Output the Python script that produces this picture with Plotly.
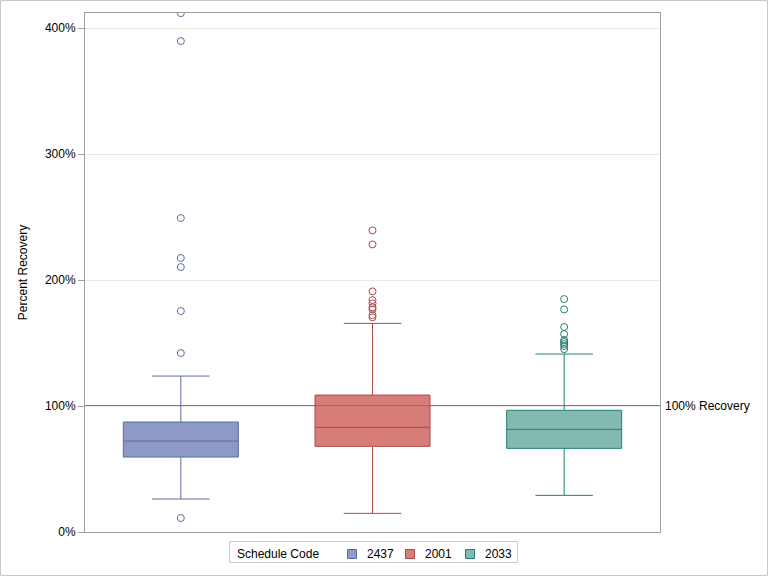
import plotly.graph_objects as go

categories = ["2437", "2001", "2033"]
q1 = [59.5, 68.0, 66.4]
median = [72.2, 83.1, 81.5]
q3 = [87.3, 108.7, 96.6]
lower_whisker = [26.2, 14.8, 29.1]
upper_whisker = [123.8, 165.6, 141.3]
outliers = [
    [411.9, 389.7, 249.2, 217.5, 210.3, 175.4, 142.1, 11.1],
    [239.4, 228.3, 191.0, 184.1, 181.5, 178.3, 176.7, 172.2, 170.4],
    [184.9, 176.7, 162.7, 157.1, 152.4, 150.8, 149.2, 147.6, 145.2],
]
fill_colors = ["rgba(104,119,179,0.75)", "rgba(203,80,78,0.75)", "rgba(91,162,151,0.75)"]
line_colors = ["rgb(92,106,166)", "rgb(176,72,70)", "rgb(34,126,114)"]
ref_value = 100
ref_label = "100% Recovery"
legend_title = "Schedule Code"
y_range = [0, 412]
y_ticks = [0, 100, 200, 300, 400]
y_ticklabels = ["0%", "100%", "200%", "300%", "400%"]

FONT = "Liberation Sans, Arial, sans-serif"

L, R, T, B = 85, 108, 13, 44
W, H = 768 - L - R, 576 - T - B


def px(x):
    return (x - L) / W


def py(y):
    return (T + H - y) / H


fig = go.Figure()
for i, cat in enumerate(categories):
    fig.add_trace(go.Box(
        x=[cat], q1=[q1[i]], median=[median[i]], q3=[q3[i]],
        lowerfence=[lower_whisker[i]], upperfence=[upper_whisker[i]],
        name=cat, width=0.6, whiskerwidth=0.5,
        fillcolor=fill_colors[i], line=dict(color=line_colors[i], width=1),
        boxpoints=False, hoverinfo="skip", showlegend=False,
    ))
    fig.add_trace(go.Scatter(
        x=[cat] * len(outliers[i]), y=outliers[i], mode="markers",
        marker=dict(symbol="circle-open", size=7, color=line_colors[i], line=dict(width=1)),
        showlegend=False, hoverinfo="skip", cliponaxis=True,
    ))

fig.add_hline(y=ref_value, line=dict(color="black", width=1.1), layer="below")
fig.add_annotation(x=1, xref="paper", y=ref_value, yref="y", text=ref_label,
                   showarrow=False, xanchor="left", xshift=3,
                   font=dict(family=FONT, size=12, color="black"))

# outer image border
fig.add_shape(type="rect", xref="paper", yref="paper",
              x0=px(0.5), x1=px(767.5), y0=py(575.5), y1=py(0.5),
              line=dict(color="rgb(200,200,200)", width=1), layer="below")

# legend (drawn as a key below the plot)
fig.add_shape(type="rect", xref="paper", yref="paper",
              x0=px(229.5), x1=px(517.5), y0=py(562.5), y1=py(541.5),
              line=dict(color="rgb(200,200,200)", width=1), fillcolor="white")
fig.add_annotation(x=px(235), y=py(554), xref="paper", yref="paper", text=legend_title,
                   showarrow=False, xanchor="left", yanchor="middle",
                   font=dict(family=FONT, size=12, color="black"))
key_x = [347.5, 405.5, 465.5]
for i, cat in enumerate(categories):
    fig.add_shape(type="rect", xref="paper", yref="paper",
                  x0=px(key_x[i]), x1=px(key_x[i] + 9), y0=py(558.5), y1=py(549.5),
                  line=dict(color=line_colors[i], width=1), fillcolor=fill_colors[i])
    fig.add_annotation(x=px(key_x[i] + 17), y=py(554), xref="paper", yref="paper",
                       text=cat, showarrow=False, xanchor="left", yanchor="middle",
                       font=dict(family=FONT, size=12, color="black"))

fig.update_layout(
    width=768, height=576,
    margin=dict(l=L, r=R, t=T, b=B, autoexpand=False),
    paper_bgcolor="white", plot_bgcolor="white",
    boxmode="overlay",
    showlegend=False,
    font=dict(family=FONT, size=12, color="black"),
    xaxis=dict(type="category", categoryorder="array", categoryarray=categories,
               range=[-0.5, 2.5], showticklabels=False, ticks="",
               showgrid=False, showline=True, linecolor="rgb(160,160,160)",
               linewidth=1, mirror=True, zeroline=False),
    yaxis=dict(range=y_range, tickvals=y_ticks, ticktext=y_ticklabels,
               ticks="outside", ticklen=6, tickcolor="rgb(160,160,160)",
               showgrid=True, gridcolor="rgb(232,232,232)", gridwidth=1,
               showline=True, linecolor="rgb(160,160,160)", linewidth=1,
               mirror=True, zeroline=False,
               title=dict(text="Percent Recovery", standoff=14,
                          font=dict(family=FONT, size=12))),
)

fig.write_html("out.html", config={"displayModeBar": False},
               post_script="document.body.style.margin='0';")
